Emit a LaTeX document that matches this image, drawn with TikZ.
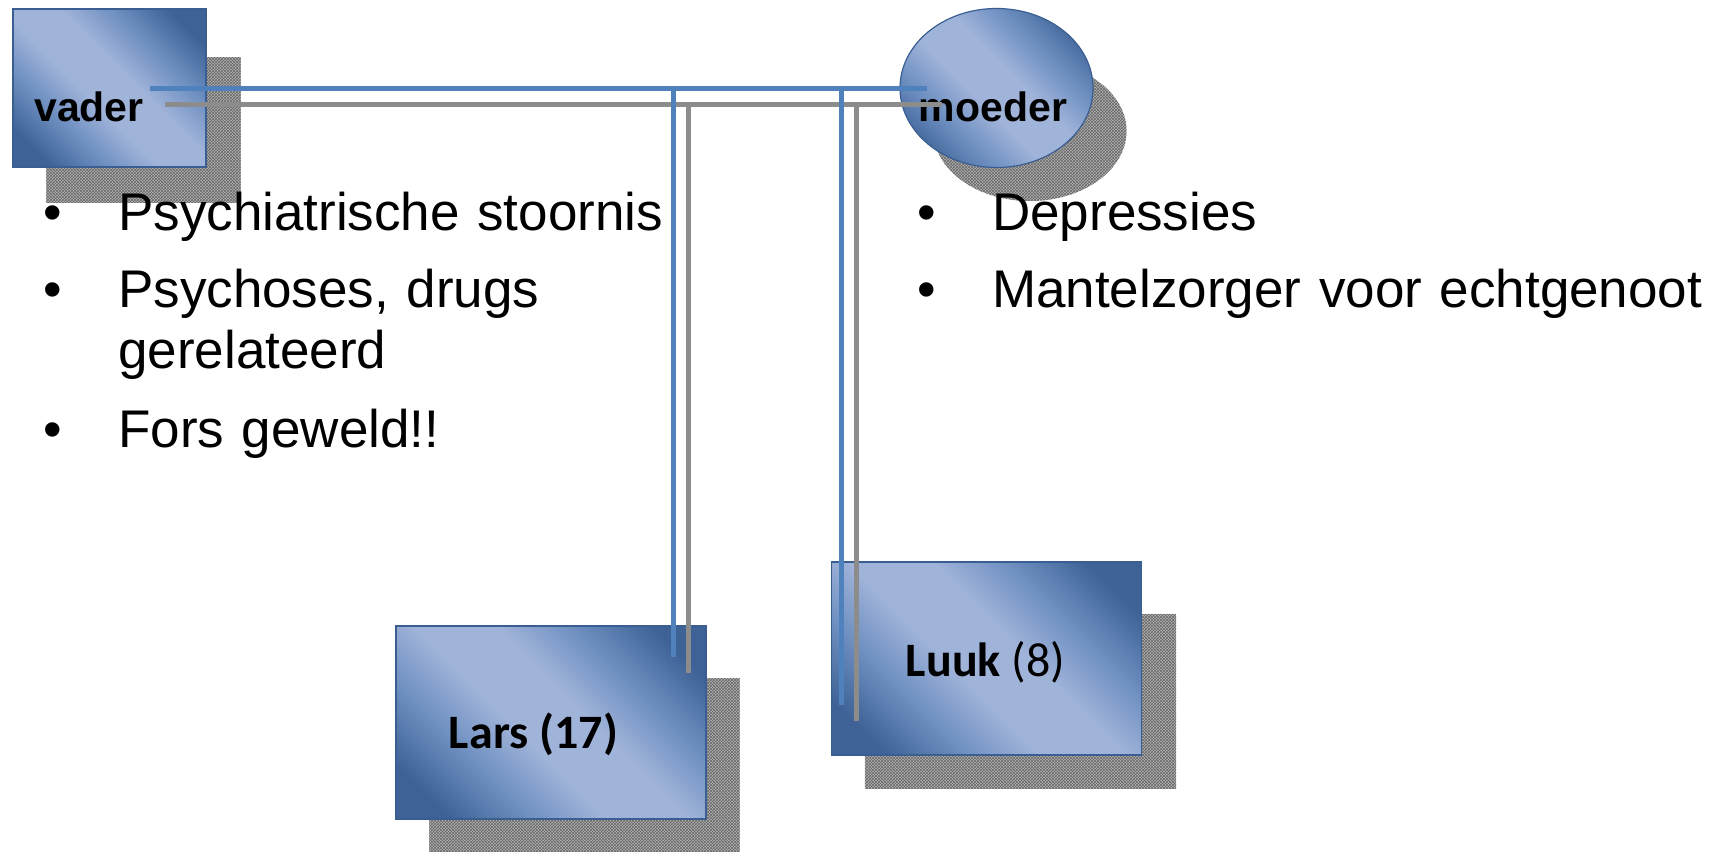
\documentclass[tikz,border=0pt]{standalone}
\usepackage{fontspec}
\setmainfont{Liberation Sans}
\newfontfamily\kindfont{Carlito}
\usetikzlibrary{backgrounds,patterns,shapes.geometric}

\definecolor{vakdonker}{RGB}{62,98,150}
\definecolor{vakmidden}{RGB}{112,145,194}
\definecolor{vaklicht}{RGB}{160,179,217}
\definecolor{vakrand}{RGB}{58,94,146}
\definecolor{lijnblauw}{RGB}{79,129,189}

\pgfdeclarehorizontalshading{persoonvulling}{100bp}{color(0bp)=(vakdonker); color(22bp)=(vakdonker);
	color(34bp)=(vakmidden); color(44bp)=(vaklicht); color(56bp)=(vaklicht);
	color(66bp)=(vakmidden); color(78bp)=(vakdonker); color(100bp)=(vakdonker)}

\tikzset{
	persoon/.style={draw=vakrand, line width=1.2pt, inner sep=0pt,
		shading=persoonvulling, shading angle=45},
	ouder/.style={persoon, rectangle, minimum width=193pt, minimum height=158pt},
	ouderrond/.style={persoon, ellipse, minimum width=193pt, minimum height=159pt},
	kind/.style={persoon, rectangle, minimum width=310pt, minimum height=193pt},
	naam/.style={inner sep=0pt, font=\bfseries\fontsize{41}{49}\selectfont},
	kindnaam/.style={inner sep=0pt, font=\kindfont\fontsize{48}{56}\selectfont},
	schaduw/.style={fill=black!30, postaction={pattern=crosshatch, pattern color=black!60}},
	lijn/.style={draw=lijnblauw, line width=5pt},
	lijnschaduw/.style={draw=black!45, line width=5pt, transform canvas={shift={(15,16)}}},
	punt/.style={anchor=base west, inner sep=0pt, text width=720pt, align=left,
		font=\fontsize{53}{61}\selectfont,
		execute at begin node={\leavevmode\llap{•\hspace{56pt}}}}
}

\begin{document}
\begin{tikzpicture}[x=1pt, y=-1pt]
	\useasboundingbox (0,0) rectangle (1715,851);

	% ouders en kinderen
	\node [ouder]      (vader) at (109.5,88)  [label={[naam, xshift=-20.5pt, yshift=-19pt]center:vader}] {};
	\node [ouderrond]  (moeder) at (996.5,88) [label={[naam, xshift=-3.5pt, yshift=-19pt]center:moeder}] {};
	\node [kind]       (lars) at (551,722.5)  [label={[kindnaam, xshift=-17.5pt, yshift=-11.5pt]center:{\bfseries Lars (17)}}] {};
	\node [kind]       (luuk) at (986.5,658.5) [label={[kindnaam, xshift=-1pt, yshift=-3.5pt]center:{{\bfseries Luuk} (8)}}] {};

	% schaduwen
	\begin{pgfonlayer}{background}
		\fill [schaduw] ([xshift=34pt, yshift=-49pt]vader.north west) rectangle ([xshift=34pt, yshift=-35pt]vader.south east);
		\fill [schaduw] ([xshift=34pt, yshift=-53pt]lars.north west) rectangle ([xshift=33pt, yshift=-33pt]lars.south east);
		\fill [schaduw] ([xshift=34pt, yshift=-53pt]luuk.north west) rectangle ([xshift=34pt, yshift=-33pt]luuk.south east);
		\fill [schaduw] ([xshift=33.5pt, yshift=-43pt]moeder.center) ellipse [x radius=96.5pt, y radius=70pt];
	\end{pgfonlayer}

	% lijnen
	\coordinate (larsin) at ([xshift=-33pt, yshift=-32pt]lars.north east);
	\coordinate (luukin) at ([xshift=11pt, yshift=-144pt]luuk.north west);

	\path [lijnschaduw] ([xshift=40pt]vader.center) -- ([xshift=-70pt]moeder.center);
	\path [lijnschaduw] (larsin |- vader.center) -- (larsin);
	\path [lijnschaduw] (luukin |- vader.center) -- (luukin);

	\path [lijn] ([xshift=40pt]vader.center) -- ([xshift=-70pt]moeder.center);
	\path [lijn] (larsin |- vader.center) -- (larsin);
	\path [lijn] (luukin |- vader.center) -- (luukin);

	% kenmerken
	\node [punt] (v1) at (118,230) {Psychiatrische stoornis};
	\node [punt] (v2) at (118,307) {Psychoses, drugs\\gerelateerd};
	\node [punt] (v3) at (118,447) {Fors geweld!!};
	\node [punt] (m1) at (992,230) {Depressies};
	\node [punt] (m2) at (992,307) {Mantelzorger voor echtgenoot};
\end{tikzpicture}
\end{document}
